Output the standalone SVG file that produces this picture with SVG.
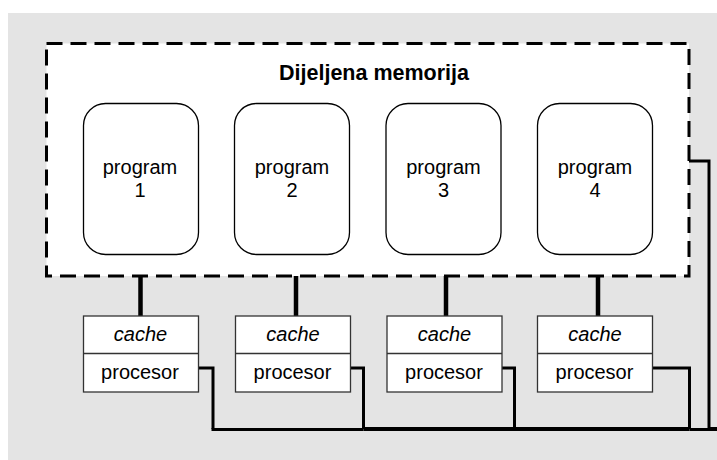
<svg xmlns="http://www.w3.org/2000/svg" width="717" height="460" viewBox="0 0 717 460">
  <style>
    .txt { font-family: "Liberation Sans", Arial, sans-serif; font-size: 20px; fill: #000; text-anchor: middle; }
    .title { font-weight: bold; font-size: 21.5px; }
    .it { font-style: italic; }
    .prog { fill: #fff; stroke: #000; stroke-width: 1.3; }
    .box { fill: #fff; stroke: #333; stroke-width: 1.3; }
    .link { fill: none; stroke: #000; stroke-width: 4.5; }
    .wire { fill: none; stroke: #000; stroke-width: 3; stroke-linejoin: miter; }
    .bus { fill: none; stroke: #000; stroke-width: 4; }
  </style>

  <!-- canvas background -->
  <rect x="8" y="13" width="709" height="447" fill="#e4e4e4"/>

  <!-- shared memory region -->
  <g id="memory">
    <rect x="46.5" y="43.5" width="642.5" height="232.5" fill="#fff" stroke="#000" stroke-width="3" stroke-dasharray="16 8"/>
    <text class="txt title" x="374" y="80">Dijeljena memorija</text>
  </g>

  <g id="program1">
    <rect class="prog" x="83.5" y="103.5" width="115" height="151" rx="22" ry="22"/>
    <text class="txt" x="140" y="174">program</text>
    <text class="txt" x="140" y="197">1</text>
  </g>
  <g id="program2">
    <rect class="prog" x="234.5" y="103.5" width="115" height="151" rx="22" ry="22"/>
    <text class="txt" x="292" y="174">program</text>
    <text class="txt" x="292" y="197">2</text>
  </g>
  <g id="program3">
    <rect class="prog" x="386" y="103.5" width="115" height="151" rx="22" ry="22"/>
    <text class="txt" x="443.5" y="174">program</text>
    <text class="txt" x="443.5" y="197">3</text>
  </g>
  <g id="program4">
    <rect class="prog" x="537.5" y="103.5" width="115" height="151" rx="22" ry="22"/>
    <text class="txt" x="595" y="174">program</text>
    <text class="txt" x="595" y="197">4</text>
  </g>

  <!-- connectors -->
  <g id="connectors">
    <!-- memory to cache links -->
    <line class="link" x1="140.5" y1="276" x2="140.5" y2="316"/>
    <line class="link" x1="296" y1="276" x2="296" y2="316"/>
    <line class="link" x1="446" y1="276" x2="446" y2="316"/>
    <line class="link" x1="598" y1="276" x2="598" y2="316"/>
    <!-- processor to bus wires -->
    <polyline class="wire" points="198,368 213,368 213,429"/>
    <polyline class="wire" points="350,368 363.5,368 363.5,429"/>
    <polyline class="wire" points="501,368 514.5,368 514.5,429"/>
    <polyline class="wire" points="652,368 689.5,368 689.5,429"/>
    <!-- memory to bus wire -->
    <polyline class="wire" points="689,161 709,161 709,429"/>
    <!-- bus -->
    <line class="wire" x1="211.5" y1="429.5" x2="363.5" y2="429.5"/>
    <line class="bus" x1="363.5" y1="429" x2="689.5" y2="429"/>
    <line class="wire" x1="689.5" y1="429.5" x2="709" y2="429.5"/>
    <line class="bus" x1="709" y1="429" x2="717" y2="429"/>
  </g>

  <g id="cpu1">
    <rect class="box" x="83.5" y="316" width="115" height="76"/>
    <line x1="83.5" y1="353.5" x2="198.5" y2="353.5" stroke="#333" stroke-width="1.3"/>
    <text class="txt it" x="140.5" y="341">cache</text>
    <text class="txt" x="140" y="379">procesor</text>
  </g>
  <g id="cpu2">
    <rect class="box" x="235.5" y="316" width="115" height="76"/>
    <line x1="235.5" y1="353.5" x2="350.5" y2="353.5" stroke="#333" stroke-width="1.3"/>
    <text class="txt it" x="293" y="341">cache</text>
    <text class="txt" x="292.5" y="379">procesor</text>
  </g>
  <g id="cpu3">
    <rect class="box" x="387" y="316" width="115" height="76"/>
    <line x1="387" y1="353.5" x2="502" y2="353.5" stroke="#333" stroke-width="1.3"/>
    <text class="txt it" x="444.5" y="341">cache</text>
    <text class="txt" x="444" y="379">procesor</text>
  </g>
  <g id="cpu4">
    <rect class="box" x="537.5" y="316" width="115" height="76"/>
    <line x1="537.5" y1="353.5" x2="652.5" y2="353.5" stroke="#333" stroke-width="1.3"/>
    <text class="txt it" x="595" y="341">cache</text>
    <text class="txt" x="594.5" y="379">procesor</text>
  </g>
</svg>
